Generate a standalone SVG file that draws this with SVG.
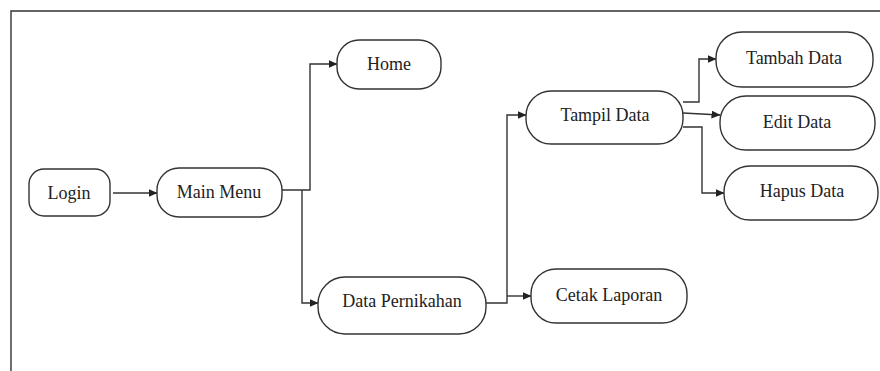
<svg xmlns="http://www.w3.org/2000/svg" width="880" height="371" viewBox="0 0 880 371">
<defs>
<style>
.n rect{fill:#fff;stroke:#333;stroke-width:1.4}
.n text{font-family:"Liberation Serif","Times New Roman",serif;font-size:18px;fill:#222;text-anchor:middle}
.c path{fill:none;stroke:#333;stroke-width:1.4}
</style>
<marker id="ah" markerWidth="9" markerHeight="8" refX="8.5" refY="4" orient="auto" markerUnits="userSpaceOnUse">
<path d="M0,0 L9,4 L0,8 Z" fill="#222"/>
</marker>
</defs>
<rect width="880" height="371" fill="#fff"/>
<path d="M11,371 V11 H880" fill="none" stroke="#333" stroke-width="1.4"/>
<g class="c">
<path d="M113,193 H157" marker-end="url(#ah)"/>
<path d="M282,190 H310 V64 H337" marker-end="url(#ah)"/>
<path d="M302,190 V303 H318" marker-end="url(#ah)"/>
<path d="M486,303 H507 V115 H526" marker-end="url(#ah)"/>
<path d="M507,296 H531" marker-end="url(#ah)"/>
<path d="M683,102 H699 V59 H716" marker-end="url(#ah)"/>
<path d="M683,113 L720,115" marker-end="url(#ah)"/>
<path d="M683,127 H702 V193 H724" marker-end="url(#ah)"/>
</g>
<g id="login" class="n"><rect x="29" y="169" width="81" height="47" rx="15"/><text x="69" y="199">Login</text></g>
<g id="mainmenu" class="n"><rect x="157" y="168" width="125" height="49" rx="22"/><text x="219" y="198">Main Menu</text></g>
<g id="home" class="n"><rect x="337" y="40" width="104" height="49" rx="22"/><text x="389" y="70">Home</text></g>
<g id="datapernikahan" class="n"><rect x="318" y="277" width="168" height="57" rx="27"/><text x="402" y="307">Data Pernikahan</text></g>
<g id="tampildata" class="n"><rect x="526" y="91" width="157" height="53" rx="25"/><text x="605" y="121">Tampil Data</text></g>
<g id="cetaklaporan" class="n"><rect x="531" y="269" width="156" height="54" rx="25"/><text x="609" y="301">Cetak Laporan</text></g>
<g id="tambahdata" class="n"><rect x="716" y="32" width="157" height="55" rx="26"/><text x="794" y="64">Tambah Data</text></g>
<g id="editdata" class="n"><rect x="720" y="96" width="155" height="54" rx="26"/><text x="797" y="128">Edit Data</text></g>
<g id="hapusdata" class="n"><rect x="724" y="166" width="154" height="54" rx="26"/><text x="802" y="197">Hapus Data</text></g>
</svg>
